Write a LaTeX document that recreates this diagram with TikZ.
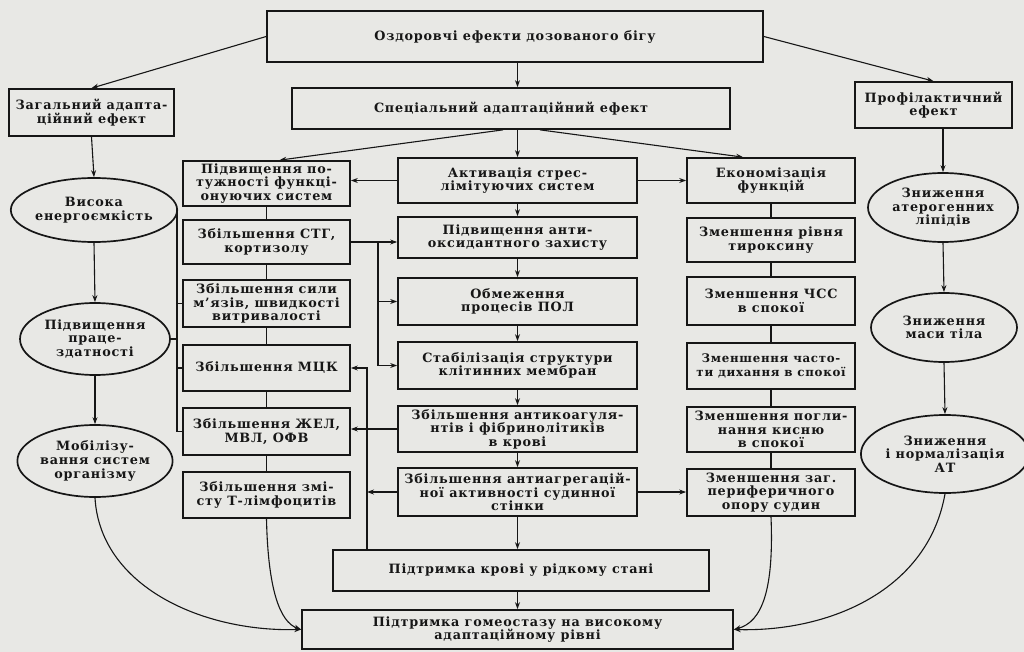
\documentclass[tikz,border=0pt]{standalone}
\usepackage{fontspec}
\setmainfont[LetterSpace=6]{DejaVu Serif}
\usetikzlibrary{arrows.meta,calc,shapes.geometric}
\definecolor{paper}{RGB}{232,232,229}
\definecolor{ink}{RGB}{22,22,22}
\tikzset{
  bx/.style={draw=ink, line width=1.7pt, inner sep=0pt, align=center, text=ink,
    font=\bfseries\fontsize{12.8}{13.6}\selectfont},
  el/.style={draw=ink, ellipse, line width=1.7pt, inner sep=0pt, align=center, text=ink,
    font=\bfseries\fontsize{12.8}{13.6}\selectfont},
  ln/.style={draw=ink, line width=1.1pt},
  arr/.style={draw=ink, line width=1.1pt, -{Stealth[length=7pt,width=5pt]}},
}
\begin{document}
\begin{tikzpicture}[x=1pt,y=-1pt]
\fill[paper] (0,0) rectangle (1024,652);
\useasboundingbox (0,0) rectangle (1024,652);

% top level
\node[bx, minimum width=496pt, minimum height=51pt] (top) at (515,36.5) {Оздоровчі ефекти дозованого бігу};
\node[bx, minimum width=438pt, minimum height=41pt] (spec) at (511,108.5) {Спеціальний адаптаційний ефект};
\node[bx, minimum width=165pt, minimum height=47pt] (gen) at (91.5,112.5) {Загальний адапта-\\ційний ефект};
\node[bx, minimum width=157pt, minimum height=46pt] (prof) at (933.5,105) {Профілактичний\\ефект};

% left ellipses
\node[el, minimum width=152pt, minimum height=64pt] (l1) at (94,210) {Висока\\енергоємкість};
\node[el, minimum width=150pt, minimum height=72pt] (l2) at (95,339) {Підвищення\\праце-\\здатності};
\node[el, minimum width=150pt, minimum height=72pt] (l3) at (95,461) {Мобілізу-\\вання систем\\організму};

% left boxes
\node[bx, minimum width=167pt, minimum height=45pt] (A) at (266.5,183.5) {Підвищення по-\\тужності функці-\\онуючих систем};
\node[bx, minimum width=167pt, minimum height=44pt] (B) at (266.5,242) {Збільшення СТГ,\\кортизолу};
\node[bx, minimum width=167pt, minimum height=47pt] (C) at (266.5,303.5) {Збільшення сили\\м'язів, швидкості\\витривалості};
\node[bx, minimum width=167pt, minimum height=46pt] (D) at (266.5,368) {Збільшення МЦК};
\node[bx, minimum width=167pt, minimum height=47pt] (E) at (266.5,431.5) {Збільшення ЖЕЛ,\\МВЛ, ОФВ};
\node[bx, minimum width=167pt, minimum height=46pt] (F) at (266.5,495) {Збільшення змі-\\сту Т-лімфоцитів};

% centre boxes
\node[bx, minimum width=239pt, minimum height=45pt] (c1) at (517.5,180.5) {Активація стрес-\\лімітуючих систем};
\node[bx, minimum width=239pt, minimum height=41pt] (c2) at (517.5,237.5) {Підвищення анти-\\оксидантного захисту};
\node[bx, minimum width=239pt, minimum height=47pt] (c3) at (517.5,301.5) {Обмеження\\процесів ПОЛ};
\node[bx, minimum width=239pt, minimum height=47pt] (c4) at (517.5,365.5) {Стабілізація структури\\клітинних мембран};
\node[bx, minimum width=239pt, minimum height=46pt] (c5) at (517.5,429) {Збільшення антикоагуля-\\нтів і фібринолітиків\\в крові};
\node[bx, minimum width=239pt, minimum height=48pt] (c6) at (517.5,492) {Збільшення антиагрегацій-\\ної активності судинної\\стінки};

% right boxes
\node[bx, minimum width=168pt, minimum height=45pt] (r1) at (771,180.5) {Економізація\\функцій};
\node[bx, minimum width=168pt, minimum height=44pt] (r2) at (771,240) {Зменшення рівня\\тироксину};
\node[bx, minimum width=168pt, minimum height=48pt] (r3) at (771,301) {Зменшення ЧСС\\в спокої};
\node[bx, minimum width=168pt, minimum height=46pt, font=\bfseries\fontsize{11.8}{13.4}\selectfont] (r4) at (771,366) {Зменшення часто-\\ти дихання в спокої};
\node[bx, minimum width=168pt, minimum height=45pt] (r5) at (771,429.5) {Зменшення погли-\\нання кисню\\в спокої};
\node[bx, minimum width=168pt, minimum height=47pt] (r6) at (771,492.5) {Зменшення заг.\\периферичного\\опору судин};

% right ellipses
\node[el, minimum width=150pt, minimum height=69pt] (p1) at (943,207.5) {Зниження\\атерогенних\\ліпідів};
\node[el, minimum width=146pt, minimum height=69pt] (p2) at (944,327.5) {Зниження\\маси тіла};
\node[el, minimum width=146pt, minimum height=78pt] (p3) at (945,454) {Зниження\\і нормалізація\\АТ};

% bottom boxes
\node[bx, minimum width=376pt, minimum height=41pt] (blood) at (521,570.5) {Підтримка крові у рідкому стані};
\node[bx, minimum width=431pt, minimum height=39pt] (home) at (517.5,629.5) {Підтримка гомеостазу на високому\\адаптаційному рівні};

% connectors from the top
\draw[arr] (top.west) -- (gen.north);
\draw[arr] (top.east) -- (prof.north);
\draw[arr] (top.south -| c1.north) -- (spec.north -| c1.north);
\draw[arr] (spec.south -| c1.north) -- (c1.north);
\draw[arr] ($(spec.south)+(-8,0)$) -- ($(A.north)+(13,0)$);
\draw[arr] ($(spec.south)+(29,0)$) -- ($(r1.north)+(-28,0)$);

% left ellipse chain
\draw[arr] (gen.south) -- (l1.north);
\draw[arr] (l1.south) -- (l2.north);
\draw[arr] (l2.south) -- (l3.north);

% bracket from ellipses to the left boxes
\coordinate (bt) at (177,210);
\coordinate (bb) at (177,431.5);
\draw[ln] (l1.east) -- (bt) -- (bb) -- (E.west);
\draw[ln] (l2.east) -- (l2.east -| bt);
\draw[ln] (C.west -| bt) -- (C.west);
\draw[ln] (D.west -| bt) -- (D.west);

% left column links
\draw[ln] (A.south) -- (B.north);
\draw[ln] (B.south) -- (C.north);
\draw[ln] (C.south) -- (D.north);
\draw[ln] (D.south) -- (E.north);
\draw[ln] (E.south) -- (F.north);

% right column links
\draw[ln] (r1.south) -- (r2.north);
\draw[ln] (r2.south) -- (r3.north);
\draw[ln] (r3.south) -- (r4.north);
\draw[ln] (r4.south) -- (r5.north);
\draw[ln] (r5.south) -- (r6.north);

% prophylactic chain
\draw[arr] (prof.south -| p1.north) -- (p1.north);
\draw[arr] (p1.south) -- (p2.north);
\draw[arr] (p2.south) -- (p3.north);

% centre chain
\draw[arr] (c1.south) -- (c2.north);
\draw[arr] (c2.south) -- (c3.north);
\draw[arr] (c3.south) -- (c4.north);
\draw[arr] (c4.south) -- (c5.north);
\draw[arr] (c5.south) -- (c6.north);
\draw[arr] (c6.south) -- (c6.south |- blood.north);
\draw[arr] (blood.south -| c6.south) -- (c6.south |- home.north);

% horizontal links of the centre column
\draw[arr] (c1.west) -- (c1.west -| A.east);
\draw[arr] (c1.east) -- (c1.east -| r1.west);
\draw[arr] (c6.east) -- (c6.east -| r6.west);

% СТГ branch
\coordinate (sx) at (378,242);
\draw[arr] (B.east) -- (B.east -| c2.west);
\draw[ln] (sx) -- (sx |- c4.west);
\draw[arr] (sx |- c3.west) -- (c3.west);
\draw[arr] (sx |- c4.west) -- (c4.west);

% blood branch
\coordinate (vx) at (367,368);
\draw[arr] (vx |- blood.north) -- (vx) -- (D.east);
\draw[arr] (c5.west) -- (c5.west -| E.east);
\draw[arr] (c6.west) -- (c6.west -| vx);

% curves to homeostasis
\draw[arr] (l3.south) .. controls (100,585) and (200,632) .. (home.west);
\draw[arr] (F.south) .. controls (268,590) and (280,622) .. (home.west);
\draw[arr] (r6.south) .. controls (774,590) and (762,622) .. (home.east);
\draw[arr] (p3.south) .. controls (928,590) and (830,632) .. (home.east);
\end{tikzpicture}
\end{document}
